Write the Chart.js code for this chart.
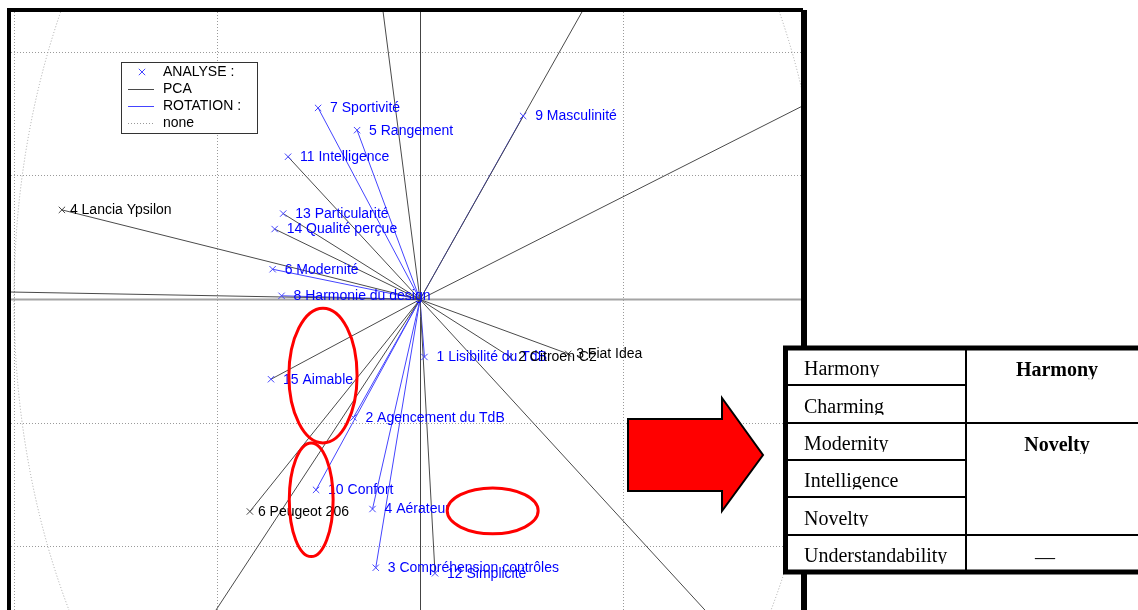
<!DOCTYPE html>
<html>
<head>
<meta charset="utf-8">
<script src="https://cdn.jsdelivr.net/npm/chart.js@4.4.0/dist/chart.umd.min.js"></script>
<style>
  html, body { margin: 0; padding: 0; background: #fff; overflow: hidden; }
  canvas { display: block; }
</style>
</head>
<body>
<canvas id="plot" width="1138" height="640"></canvas>
<script>
// Questionnaire variables (loadings on the first two components)
const varLabels = ['1 Lisibilité du TdB', '2 Agencement du TdB', '3 Compréhension contrôles', '4 Aérateur',
  '5 Rangement', '6 Modernité', '7 Sportivité', '8 Harmonie du design', '9 Masculinité', '10 Confort',
  '11 Intelligence', '12 Simplicité', '13 Particularité', '14 Qualité perçue', '15 Aimable'];
const varX = [0.011, -0.164, -0.109, -0.117, -0.155, -0.363, -0.251, -0.341, 0.254, -0.256,
  -0.325, 0.037, -0.337, -0.358, -0.367];
const varY = [-0.093, -0.191, -0.434, -0.339, 0.274, 0.049, 0.310, 0.006, 0.297, -0.308,
  0.231, -0.443, 0.139, 0.114, -0.129];
// R = rotated vector (blue), P = PCA vector (black)
const varVector = ['R', 'R', 'R', 'R', 'R', 'R', 'R', 'R', 'R', 'R', 'P', 'P', 'P', 'P', 'P'];

// Cars (scores)
const carLabels = ['2 Citroen C2', '3 Fiat Idea', '4 Lancia Ypsilon', '6 Peugeot 206'];
const carX = [0.222, 0.365, -0.882, -0.419];
const carY = [-0.093, -0.088, 0.145, -0.343];

// Cars whose scores fall outside the frame: only their vectors show
const outerX = [-0.100, 0.439, 1.032, -1.108, -0.553, 0.764];
const outerY = [0.512, 0.512, 0.343, 0.0133, -0.553, -0.547];

// Axis ranges and dotted grid positions
const xRange = [-1.0074, 0.9384];
const yRange = [-0.5202, 0.4652];
const xGridTicks = [-1, -0.5, 0.5];
const yGridTicks = [0.4, 0.2, -0.2, -0.4];

// Legend entries
const legendLabels = ['ANALYSE :', 'PCA', 'ROTATION :', 'none'];

// Highlight ellipses (centre x, centre y, radius x, radius y) in data units
const ringCX = [-0.239, -0.268, 0.179];
const ringCY = [-0.123, -0.324, -0.342];
const ringRX = [0.084, 0.054, 0.112];
const ringRY = [0.109, 0.092, 0.037];

// Summary table
const tableRows = ['Harmony', 'Charming', 'Modernity', 'Intelligence', 'Novelty', 'Understandability'];
const tableGroups = ['Harmony', 'Novelty', '—'];
const tableGroupSpan = [[0, 2], [2, 5], [5, 6]];

const BLUE = '#4444ff';
const DARK = '#4a4a4a';
const SANS = "'Liberation Sans', Arial, sans-serif";
const SERIF = "'Liberation Serif', 'Times New Roman', serif";

const datasets = [];
// vectors from the origin (black ones are drawn over the blue ones)
varX.forEach((vx, i) => {
  const rotated = varVector[i] === 'R';
  datasets.push({
    data: [{ x: 0, y: 0 }, { x: vx, y: varY[i] }],
    showLine: true, pointRadius: 0, borderWidth: 1,
    borderColor: rotated ? BLUE : DARK, order: rotated ? 4 : 3
  });
});
carX.concat(outerX).forEach((cx, i) => {
  const cy = carY.concat(outerY)[i];
  datasets.push({
    data: [{ x: 0, y: 0 }, { x: cx, y: cy }],
    showLine: true, pointRadius: 0, borderWidth: 1, borderColor: DARK, order: 3
  });
});
// markers
const VAR_MARKERS = datasets.length;
datasets.push({
  data: varX.map((v, i) => ({ x: v, y: varY[i] })),
  pointStyle: 'crossRot', pointRadius: 4.5, borderWidth: 1,
  borderColor: BLUE, backgroundColor: BLUE, order: 0
});
const CAR_MARKERS = datasets.length;
datasets.push({
  data: carX.map((v, i) => ({ x: v, y: carY[i] })),
  pointStyle: 'crossRot', pointRadius: 4.5, borderWidth: 1,
  borderColor: '#444', backgroundColor: '#444', order: 0
});

const decorations = {
  id: 'decorations',
  beforeDatasetsDraw(chart) {
    const { ctx, chartArea: a, scales: { x, y } } = chart;
    const cx = x.getPixelForValue(0), cy = y.getPixelForValue(0);
    ctx.save();
    ctx.beginPath();
    ctx.rect(a.left, a.top, a.right - a.left, a.bottom - a.top);
    ctx.clip();
    // unit correlation circle
    ctx.setLineDash([1, 2]);
    ctx.strokeStyle = '#a6a6a6';
    ctx.lineWidth = 1;
    ctx.beginPath();
    ctx.ellipse(cx, cy, x.getPixelForValue(1) - cx, cy - y.getPixelForValue(1), 0, 0, Math.PI * 2);
    ctx.stroke();
    ctx.setLineDash([]);
    // axes through the origin
    ctx.strokeStyle = '#a4a4a4';
    ctx.lineWidth = 2;
    ctx.beginPath();
    ctx.moveTo(a.left, cy); ctx.lineTo(a.right, cy);
    ctx.stroke();
    ctx.strokeStyle = '#444';
    ctx.lineWidth = 1;
    ctx.beginPath();
    ctx.moveTo(Math.round(cx) + 0.5, a.top); ctx.lineTo(Math.round(cx) + 0.5, a.bottom);
    ctx.stroke();
    ctx.restore();
  },
  afterDatasetsDraw(chart) {
    const { ctx, chartArea: a, scales: { x, y } } = chart;
    ctx.save();
    ctx.beginPath();
    ctx.rect(a.left, a.top, a.right - a.left, a.bottom - a.top);
    ctx.clip();
    // point labels
    ctx.font = '14px ' + SANS;
    ctx.textBaseline = 'middle';
    ctx.textAlign = 'left';
    ctx.fillStyle = '#0000ff';
    chart.getDatasetMeta(VAR_MARKERS).data.forEach((p, i) => {
      ctx.fillText(varLabels[i], p.x + 12, p.y + 0.5);
    });
    ctx.fillStyle = '#000';
    chart.getDatasetMeta(CAR_MARKERS).data.forEach((p, i) => {
      ctx.fillText(carLabels[i], p.x + 8, p.y + 0.5);
    });

    // legend box
    const lx = a.left + 110, ly = a.top + 50, lw = 136, lh = 71;
    ctx.fillStyle = '#fff';
    ctx.fillRect(lx, ly, lw, lh);
    ctx.strokeStyle = '#333';
    ctx.lineWidth = 1;
    ctx.strokeRect(lx + 0.5, ly + 0.5, lw, lh);
    legendLabels.forEach((t, i) => {
      const ey = ly + 10 + i * 17;
      const sx0 = lx + 7, sx1 = lx + 33;
      ctx.lineWidth = 1;
      ctx.setLineDash([]);
      if (i === 0) {
        ctx.strokeStyle = BLUE;
        const mx = lx + 21, r = 3.2;
        ctx.beginPath();
        ctx.moveTo(mx - r, ey - r); ctx.lineTo(mx + r, ey + r);
        ctx.moveTo(mx - r, ey + r); ctx.lineTo(mx + r, ey - r);
        ctx.stroke();
      } else {
        ctx.strokeStyle = i === 1 ? DARK : i === 2 ? BLUE : '#999';
        if (i === 3) ctx.setLineDash([1, 2]);
        ctx.beginPath();
        ctx.moveTo(sx0, ey + 0.5); ctx.lineTo(sx1, ey + 0.5);
        ctx.stroke();
        ctx.setLineDash([]);
      }
      ctx.fillStyle = '#000';
      ctx.fillText(t, lx + 42, ey + 0.5);
    });

    // red highlight rings
    ctx.strokeStyle = '#ff0000';
    ctx.lineWidth = 3;
    ringCX.forEach((c, i) => {
      const px = x.getPixelForValue(c), py = y.getPixelForValue(ringCY[i]);
      const rx = x.getPixelForValue(c + ringRX[i]) - px;
      const ry = py - y.getPixelForValue(ringCY[i] + ringRY[i]);
      ctx.beginPath();
      ctx.ellipse(px, py, rx, ry, 0, 0, Math.PI * 2);
      ctx.stroke();
    });
    ctx.restore();
  },
  afterDraw(chart) {
    const { ctx, chartArea: a } = chart;
    ctx.save();
    // plot frame
    ctx.fillStyle = '#000';
    ctx.fillRect(a.left - 4, a.top - 4, a.right - a.left + 6, 4);
    ctx.fillRect(a.left - 4, a.top - 4, 4, chart.height);
    ctx.fillRect(a.right, a.top - 2, 6, chart.height);

    // block arrow
    ctx.beginPath();
    ctx.moveTo(628, 419); ctx.lineTo(722, 419); ctx.lineTo(722, 398);
    ctx.lineTo(763, 455); ctx.lineTo(722, 511); ctx.lineTo(722, 491);
    ctx.lineTo(628, 491); ctx.closePath();
    ctx.fillStyle = '#ff0000';
    ctx.fill();
    ctx.strokeStyle = '#000';
    ctx.lineWidth = 2;
    ctx.lineJoin = 'miter';
    ctx.stroke();

    // summary table
    const tx = 785.5, top = 348, bottom = 572, right = 1150, colX = 966;
    const rowH = (bottom - top) / tableRows.length;
    ctx.fillStyle = '#fff';
    ctx.fillRect(tx, top, right - tx, bottom - top);
    // cell text
    ctx.fillStyle = '#000';
    ctx.textBaseline = 'alphabetic';
    ctx.font = '20px ' + SERIF;
    ctx.textAlign = 'left';
    tableRows.forEach((t, i) => {
      const rb = top + rowH * (i + 1);
      const base = rb - 10;
      ctx.save();
      ctx.beginPath();
      ctx.rect(tx, rb - rowH, colX - tx, base + 2 - (rb - rowH));
      ctx.clip();
      ctx.fillText(t, 804, base);
      ctx.restore();
    });
    ctx.font = 'bold 20px ' + SERIF;
    ctx.textAlign = 'center';
    tableGroups.forEach((t, i) => {
      const [r0, r1] = tableGroupSpan[i];
      if (t === '—') {
        ctx.font = '20px ' + SERIF;
        ctx.fillText(t, 1045, top + rowH * r1 - 8);
        return;
      }
      const base = top + rowH * (r0 + 1) - 9;
      ctx.save();
      ctx.beginPath();
      ctx.rect(colX, top + rowH * r0, right - colX, base + 3 - (top + rowH * r0));
      ctx.clip();
      ctx.fillText(t, 1057, base);
      ctx.restore();
    });
    // grid of the table
    ctx.strokeStyle = '#000';
    ctx.lineWidth = 2;
    ctx.beginPath();
    for (let i = 1; i < tableRows.length; i++) {
      const ry = Math.round(top + rowH * i);
      const full = tableGroupSpan.some(s => s[0] === i);
      ctx.moveTo(tx, ry); ctx.lineTo(full ? right : colX, ry);
    }
    ctx.moveTo(colX, top); ctx.lineTo(colX, bottom);
    ctx.stroke();
    ctx.lineWidth = 5;
    ctx.strokeRect(tx, top, right - tx, bottom - top);
    ctx.restore();
  }
};

new Chart(document.getElementById('plot'), {
  type: 'scatter',
  data: { datasets },
  options: {
    responsive: false,
    animation: false,
    events: [],
    layout: { padding: { left: 11, top: 12, right: 1138 - 801, bottom: 640 - 621 } },
    plugins: { legend: { display: false }, tooltip: { enabled: false } },
    scales: {
      x: {
        type: 'linear', min: xRange[0], max: xRange[1],
        afterBuildTicks: axis => { axis.ticks = xGridTicks.map(v => ({ value: v })); },
        ticks: { display: false },
        grid: { color: '#9a9a9a', lineWidth: 1, drawTicks: false },
        border: { display: false, dash: [1, 2] }
      },
      y: {
        type: 'linear', min: yRange[0], max: yRange[1],
        afterBuildTicks: axis => { axis.ticks = yGridTicks.map(v => ({ value: v })); },
        ticks: { display: false },
        grid: { color: '#9a9a9a', lineWidth: 1, drawTicks: false },
        border: { display: false, dash: [1, 2] }
      }
    }
  },
  plugins: [decorations]
});
</script>
</body>
</html>
